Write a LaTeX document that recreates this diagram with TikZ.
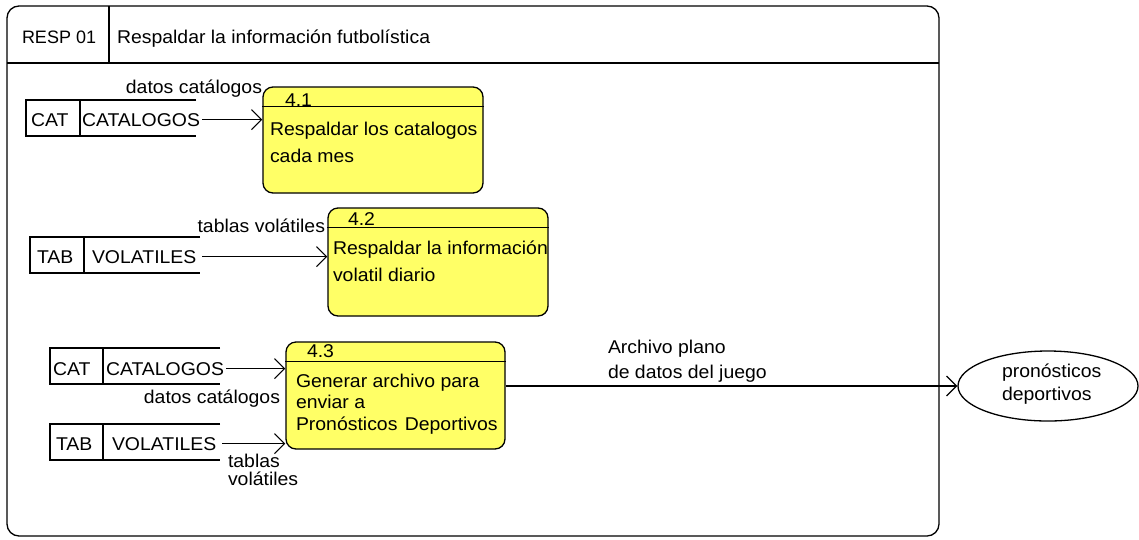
\documentclass[tikz,border=0pt]{standalone}
\usepackage{fontspec}
\setmainfont[FakeStretch=1.05]{Liberation Sans}
\newfontfamily\narrowfont{Liberation Sans}
\usetikzlibrary{arrows.meta,shapes.geometric}
\definecolor{procfill}{HTML}{FFFF66}
\tikzset{
  line/.style={draw=black, line width=1.3pt},
  flow/.style={line, -{Straight Barb[length=10pt,width=20pt,line width=1.2pt]}},
  txt/.style={inner sep=0pt, outer sep=0pt, anchor=base west, align=left,
              font=\fontsize{18.5}{27}\selectfont, text=black},
  rtxt/.style={txt, anchor=base east},
  proc/.style={line, fill=procfill, rounded corners=10pt, inner sep=0pt},
  extent/.style={line, ellipse, inner sep=0pt, minimum width=180pt, minimum height=70pt}
}
\begin{document}
\begin{tikzpicture}[x=1pt,y=-1pt]
\useasboundingbox (0,0) rectangle (1139,539);
% outer frame
\draw[line, rounded corners=12pt] (7,6) rectangle (939,536);
\draw[line] (7,63) -- (939,63);
\draw[line] (109,6) -- (109,63);
\node[txt, font=\narrowfont\fontsize{18}{22}\selectfont] (hid) at (22,43) {RESP 01};
\node[txt] (htitle) at (117,43) {Respaldar la información futbolística};

% processes
\node[proc, minimum width=220pt, minimum height=106pt] (p1) at (373,140) {};
\draw[line] ([yshift=-20pt]p1.north west) -- ([yshift=-20pt]p1.north east);
\node[txt] (p1num) at (285,106) {4.1};
\node[txt] (p1txt) at (270,162) {Respaldar los catalogos\\cada mes};

\node[proc, minimum width=220pt, minimum height=108pt] (p2) at (438,262) {};
\draw[line] ([yshift=-20pt]p2.north west) -- ([yshift=-20pt]p2.north east);
\node[txt] (p2num) at (348,225) {4.2};
\node[txt] (p2txt) at (333,281) {Respaldar la información\\volatil diario};

\node[proc, minimum width=219pt, minimum height=107pt] (p3) at (395.5,395.5) {};
\draw[line] ([yshift=-20pt]p3.north west) -- ([yshift=-20pt]p3.north east);
\node[txt] (p3num) at (307,357) {4.3};
\node[txt, font=\fontsize{18.5}{21.5}\selectfont] (p3txt) at (296,430) {Generar archivo para\\enviar a\\Pronósticos\hspace{2pt} Deportivos};

% data stores
\draw[line] (196,100) -- (26,100) -- (26,136) -- (196,136);
\draw[line] (80,100) -- (80,136);
\node[txt] (s1id) at (31,126) {CAT};
\node[txt] (s1n) at (82,126) {CATALOGOS};

\draw[line] (200,237) -- (30,237) -- (30,273) -- (200,273);
\draw[line] (84,237) -- (84,273);
\node[txt] (s2id) at (37,263) {TAB};
\node[txt] (s2n) at (92,263) {VOLATILES};

\draw[line] (220,348) -- (50,348) -- (50,384) -- (220,384);
\draw[line] (103,348) -- (103,384);
\node[txt] (s3id) at (53,375) {CAT};
\node[txt] (s3n) at (106,375) {CATALOGOS};

\draw[line] (220,424) -- (50,424) -- (50,460) -- (220,460);
\draw[line] (103,424) -- (103,460);
\node[txt] (s4id) at (56,450) {TAB};
\node[txt] (s4n) at (112,450) {VOLATILES};

% external entity
\node[extent] (e) at (1048,386) {};
\node[txt, font=\fontsize{18.5}{23}\selectfont] (etxt) at (1002,400) {pronósticos\\deportivos};

% flows
\draw[flow] ([xshift=2pt]s1n.east) -- (s1n.east -| p1.west);
\draw[flow] ([xshift=6pt]s2n.east) -- (s2n.east -| p2.west);
\draw[flow] ([xshift=2pt]s3n.east) -- (s3n.east -| p3.west);
\draw[flow] ([xshift=6pt]s4n.east) -- (s4n.east -| p3.west);
\draw[flow] (p3.east |- e.west) -- (e.west);

% flow labels
\node[rtxt] (l1) at (262,93) {datos catálogos};
\node[rtxt] (l2) at (325,232) {tablas volátiles};
\node[rtxt] (l3) at (280,403) {datos catálogos};
\node[txt, font=\fontsize{18.5}{18}\selectfont] (l4) at (228,485) {tablas\\volátiles};
\node[txt, font=\fontsize{18.5}{25.5}\selectfont] (l5) at (608,378.5) {Archivo plano\\de datos del juego};
\end{tikzpicture}
\end{document}
